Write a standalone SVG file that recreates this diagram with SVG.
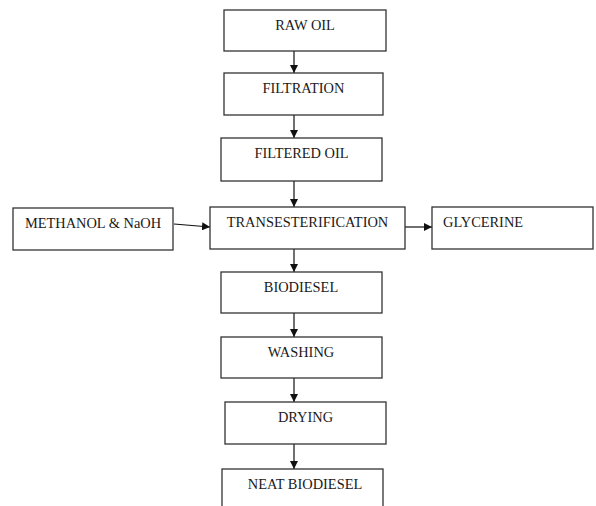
<svg xmlns="http://www.w3.org/2000/svg" width="596" height="506" viewBox="0 0 596 506">
<style>
.box{fill:#fff;stroke:#333;stroke-width:1.3}
.t{font-family:"Liberation Serif","Times New Roman",serif;font-size:14.4px;fill:#1a1a1a;text-anchor:middle}
.c{stroke:#111;stroke-width:1.2;fill:none}
</style>
<defs>
<marker id="ah" viewBox="0 0 10 10" refX="10" refY="5" markerWidth="8" markerHeight="8" markerUnits="userSpaceOnUse" orient="auto">
<path d="M0,0 L10,5 L0,10 Z" fill="#111"/>
</marker>
</defs>
<rect width="596" height="506" fill="#fff"/>
<g id="connectors">
<line class="c" x1="294" y1="51" x2="294" y2="73" marker-end="url(#ah)"/>
<line class="c" x1="294" y1="115" x2="294" y2="138" marker-end="url(#ah)"/>
<line class="c" x1="294" y1="181" x2="294" y2="207" marker-end="url(#ah)"/>
<line class="c" x1="294" y1="249" x2="294" y2="272" marker-end="url(#ah)"/>
<line class="c" x1="294" y1="313" x2="294" y2="337" marker-end="url(#ah)"/>
<line class="c" x1="294" y1="378" x2="294" y2="402" marker-end="url(#ah)"/>
<line class="c" x1="294" y1="444" x2="294" y2="469" marker-end="url(#ah)"/>
<line class="c" x1="174" y1="224" x2="210" y2="227" marker-end="url(#ah)"/>
<line class="c" x1="405" y1="227" x2="432" y2="227" marker-end="url(#ah)"/>
</g>
<g id="raw-oil"><rect class="box" x="224" y="10" width="162" height="41"/><text class="t" x="305" y="29.5">RAW OIL</text></g>
<g id="filtration"><rect class="box" x="224" y="73" width="159" height="42"/><text class="t" x="303.5" y="92.5">FILTRATION</text></g>
<g id="filtered-oil"><rect class="box" x="221" y="138" width="161" height="43"/><text class="t" x="301.5" y="157.5">FILTERED OIL</text></g>
<g id="methanol"><rect class="box" x="13" y="208" width="160" height="42"/><text class="t" x="93" y="227.5">METHANOL &amp; NaOH</text></g>
<g id="transesterification"><rect class="box" x="210" y="207" width="195" height="42"/><text class="t" x="307.5" y="227">TRANSESTERIFICATION</text></g>
<g id="glycerine"><rect class="box" x="432" y="207" width="161" height="42"/><text class="t" x="443" y="227" style="text-anchor:start">GLYCERINE</text></g>
<g id="biodiesel"><rect class="box" x="221" y="272" width="161" height="41"/><text class="t" x="301" y="291.5">BIODIESEL</text></g>
<g id="washing"><rect class="box" x="221" y="337" width="161" height="41"/><text class="t" x="301" y="356.5">WASHING</text></g>
<g id="drying"><rect class="box" x="225" y="402" width="161" height="42"/><text class="t" x="305.5" y="421.5">DRYING</text></g>
<g id="neat-biodiesel"><rect class="box" x="222" y="469" width="161" height="42"/><text class="t" x="305" y="488.5">NEAT BIODIESEL</text></g>
</svg>
